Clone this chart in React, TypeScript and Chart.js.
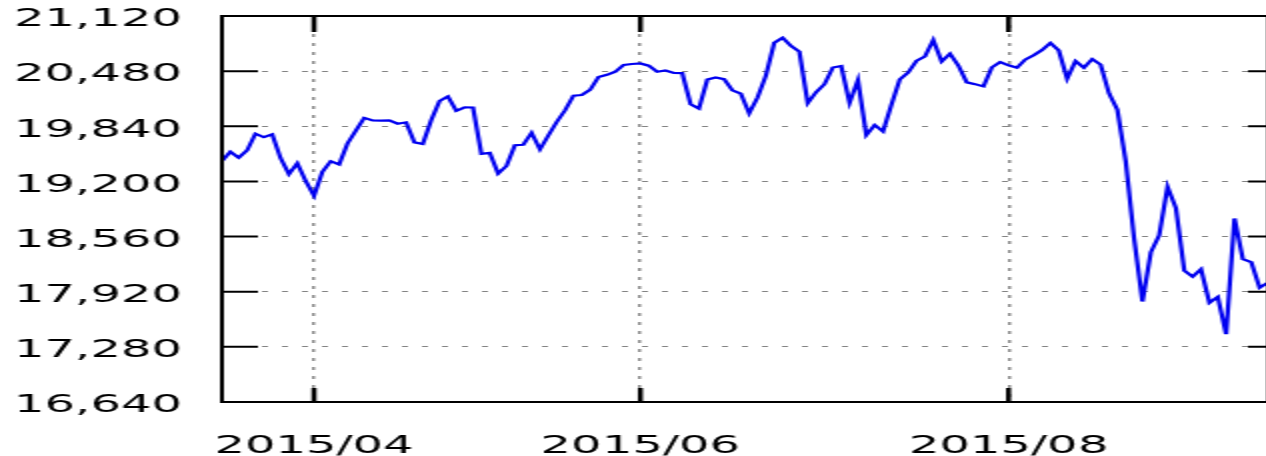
import React, { useEffect, useRef } from 'react';
import { Chart, registerables } from 'chart.js';

Chart.register(...registerables);

// Trading days (category axis)
const dates = [
  '2015/03/17', '2015/03/18', '2015/03/19', '2015/03/20', '2015/03/23', '2015/03/24', '2015/03/25', '2015/03/26', '2015/03/27', '2015/03/30', '2015/03/31',
  '2015/04/01', '2015/04/02', '2015/04/03', '2015/04/06', '2015/04/07', '2015/04/08', '2015/04/09', '2015/04/10', '2015/04/13', '2015/04/14', '2015/04/15',
  '2015/04/16', '2015/04/17', '2015/04/20', '2015/04/21', '2015/04/22', '2015/04/23', '2015/04/24', '2015/04/27', '2015/04/28', '2015/04/30',
  '2015/05/01', '2015/05/07', '2015/05/08', '2015/05/11', '2015/05/12', '2015/05/13', '2015/05/14', '2015/05/15', '2015/05/18', '2015/05/19',
  '2015/05/20', '2015/05/21', '2015/05/22', '2015/05/25', '2015/05/26', '2015/05/27', '2015/05/28', '2015/05/29',
  '2015/06/01', '2015/06/02', '2015/06/03', '2015/06/04', '2015/06/05', '2015/06/08', '2015/06/09', '2015/06/10', '2015/06/11', '2015/06/12', '2015/06/15',
  '2015/06/16', '2015/06/17', '2015/06/18', '2015/06/19', '2015/06/22', '2015/06/23', '2015/06/24', '2015/06/25', '2015/06/26', '2015/06/29', '2015/06/30',
  '2015/07/01', '2015/07/02', '2015/07/03', '2015/07/06', '2015/07/07', '2015/07/08', '2015/07/09', '2015/07/10', '2015/07/13', '2015/07/14', '2015/07/15',
  '2015/07/16', '2015/07/17', '2015/07/21', '2015/07/22', '2015/07/23', '2015/07/24', '2015/07/27', '2015/07/28', '2015/07/29', '2015/07/30', '2015/07/31',
  '2015/08/03', '2015/08/04', '2015/08/05', '2015/08/06', '2015/08/07', '2015/08/10', '2015/08/11', '2015/08/12', '2015/08/13', '2015/08/14', '2015/08/17',
  '2015/08/18', '2015/08/19', '2015/08/20', '2015/08/21', '2015/08/24', '2015/08/25', '2015/08/26', '2015/08/27', '2015/08/28', '2015/08/31',
  '2015/09/01', '2015/09/02', '2015/09/03', '2015/09/04', '2015/09/07', '2015/09/08', '2015/09/09', '2015/09/10', '2015/09/11', '2015/09/14', '2015/09/15',
];

const closes = [
  19437, 19544, 19476, 19560, 19754, 19713, 19746, 19471, 19285, 19411, 19206,
  19034, 19312, 19435, 19397, 19640, 19790, 19937, 19908, 19905, 19908, 19870,
  19886, 19653, 19634, 19910, 20133, 20187, 20020, 20059, 20058, 19520,
  19532, 19292, 19380, 19620, 19625, 19765, 19571, 19733, 19890, 20026,
  20196, 20203, 20264, 20413, 20437, 20473, 20552, 20563,
  20569, 20543, 20473, 20488, 20460, 20457, 20096, 20046, 20382, 20407, 20387,
  20257, 20219, 19990, 20174, 20428, 20809, 20868, 20772, 20706, 20109, 20236,
  20329, 20522, 20539, 20112, 20376, 19737, 19855, 19780, 20090, 20385, 20464,
  20600, 20650, 20842, 20593, 20683, 20545, 20350, 20329, 20303, 20523, 20586,
  20548, 20520, 20614, 20665, 20725, 20808, 20720, 20392, 20596, 20520, 20620,
  20555, 20223, 20033, 19436, 18540, 17806, 18377, 18574, 19136, 18890,
  18165, 18095, 18182, 17792, 17860, 17427, 18770, 18299, 18264, 17966, 18026,
];

const xTickDates = ['2015/04/01', '2015/06/01', '2015/08/03'];
const xTickLabels = ['2015/04', '2015/06', '2015/08'];

const yMin = 16640;
const yMax = 21120;
const yStep = 640;

const tickIdx = xTickDates.map((d) => dates.indexOf(d));

const FONT = { family: 'DejaVu Sans', size: 24 };

const framePlugin = {
  id: 'frame',
  afterDraw(chart: any) {
    const { ctx, chartArea: a, scales } = chart;
    ctx.save();
    ctx.setLineDash([]);
    ctx.strokeStyle = '#000';
    ctx.lineWidth = 2;
    ctx.strokeRect(a.left, a.top, a.right - a.left, a.bottom - a.top);
    const y = scales.y;
    ctx.lineWidth = 2;
    y.ticks.forEach((_t: any, i: number) => {
      const py = y.getPixelForTick(i);
      ctx.beginPath();
      ctx.moveTo(a.left, py);
      ctx.lineTo(a.left + 18, py);
      ctx.moveTo(a.right - 10, py);
      ctx.lineTo(a.right, py);
      ctx.stroke();
    });
    const x = scales.x;
    ctx.lineWidth = 2.5;
    x.ticks.forEach((_t: any, i: number) => {
      const px = x.getPixelForTick(i);
      ctx.beginPath();
      ctx.moveTo(px, a.top);
      ctx.lineTo(px, a.top + 16);
      ctx.moveTo(px, a.bottom - 14);
      ctx.lineTo(px, a.bottom);
      ctx.stroke();
    });
    ctx.restore();
  },
};

export default function App() {
  const ref = useRef<HTMLCanvasElement>(null);
  useEffect(() => {
    document.body.style.margin = '0';
    document.body.style.overflow = 'hidden';
    const chart = new Chart(ref.current as HTMLCanvasElement, {
      type: 'line',
      data: {
        labels: dates,
        datasets: [
          {
            data: closes,
            borderColor: '#0000f0',
            borderWidth: 2.2,
            pointRadius: 0,
            tension: 0,
            fill: false,
          },
        ],
      },
      options: {
        responsive: false,
        animation: false,
        devicePixelRatio: 1,
        layout: { padding: { top: 16, right: 0, left: 0, bottom: 0 } },
        plugins: { legend: { display: false }, tooltip: { enabled: false } },
        scales: {
          x: {
            type: 'category',
            afterBuildTicks: (scale: any) => {
              scale.ticks = scale.ticks.filter((t: any) => tickIdx.includes(t.value));
            },
            afterFit: (scale: any) => {
              scale.height = 54;
              scale.paddingLeft = 0;
              scale.paddingRight = 0;
            },
            grid: { color: 'rgba(110,110,110,0.8)', lineWidth: 1.5, drawTicks: false },
            border: { display: false, dash: [3, 6] },
            ticks: {
              autoSkip: false,
              maxRotation: 0,
              padding: 30,
              color: '#000',
              font: FONT,
              callback: (v: any) => xTickLabels[tickIdx.indexOf(Number(v))],
            },
          },
          y: {
            min: yMin,
            max: yMax,
            afterFit: (scale: any) => {
              scale.width = 111;
              scale.paddingTop = 0;
              scale.paddingBottom = 0;
            },
            grid: { color: 'rgba(110,110,110,0.85)', lineWidth: 1, drawTicks: false },
            border: { display: false, dash: [3, 7] },
            ticks: {
              stepSize: yStep,
              padding: 20,
              labelOffset: 4,
              color: '#000',
              font: FONT,
              callback: (v: any) => Number(v).toLocaleString('en-US'),
            },
          },
        },
      },
      plugins: [framePlugin],
    } as any);
    return () => chart.destroy();
  }, []);
  return (
    <div
      style={{
        position: 'absolute',
        left: 0,
        top: 0,
        width: 1266,
        height: 456,
        overflow: 'hidden',
        background: '#fff',
      }}
    >
      <canvas
        ref={ref}
        width={634}
        height={456}
        style={{ width: '1268px', height: '456px', display: 'block' }}
      />
    </div>
  );
}
